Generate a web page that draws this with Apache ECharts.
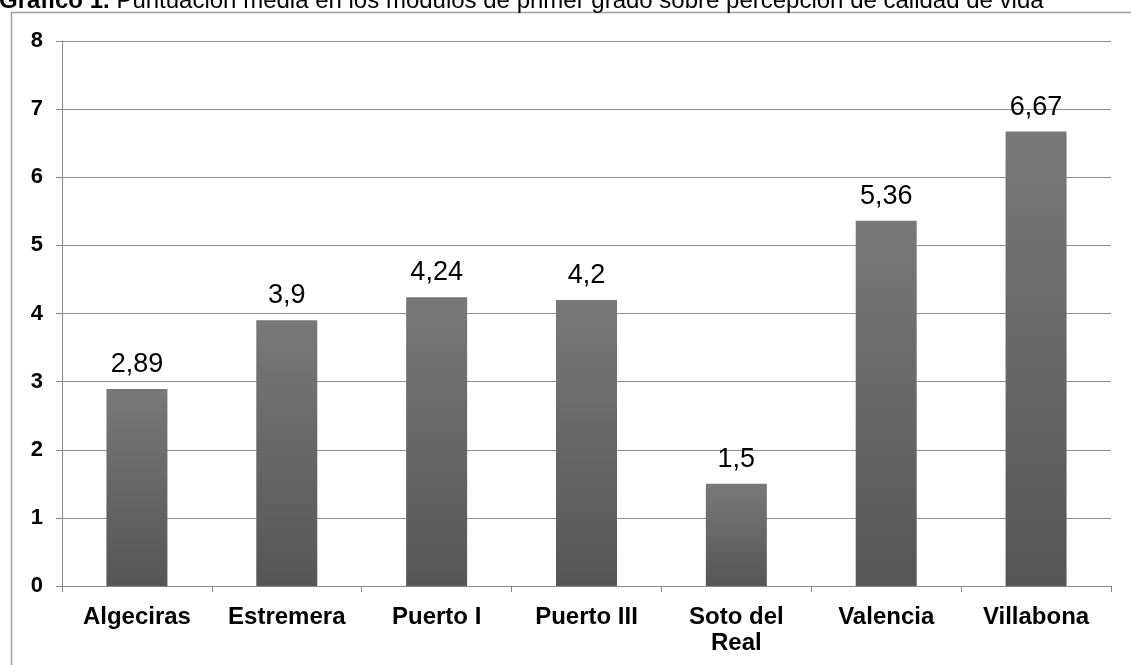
<!DOCTYPE html>
<html>
<head>
<meta charset="utf-8">
<script src="https://cdn.jsdelivr.net/npm/echarts@6/dist/echarts.min.js"></script>
<style>
html,body{margin:0;padding:0;background:#fff;}
#chart{width:1131px;height:665px;}
</style>
</head>
<body>
<div id="chart"></div>
<script>
// Centros penitenciarios y puntuación media
const categories = ['Algeciras', 'Estremera', 'Puerto I', 'Puerto III', 'Soto del\nReal', 'Valencia', 'Villabona'];
const values = [2.89, 3.9, 4.24, 4.2, 1.5, 5.36, 6.67];
const yTicks = [0, 1, 2, 3, 4, 5, 6, 7, 8];

const chart = echarts.init(document.getElementById('chart'));
const font = '"Liberation Sans", Arial, sans-serif';

chart.setOption({
  animation: false,
  textStyle: { fontFamily: font },
  graphic: [
    {
      type: 'rect',
      shape: { x: 11.5, y: 12.5, width: 1200, height: 700 },
      style: { fill: 'none', stroke: '#a0a0a0', lineWidth: 1.5 },
      z: 0
    },
    {
      type: 'text',
      left: -1,
      top: -11,
      style: {
        text: '{b|Gráfico 1.} Puntuación media en los módulos de primer grado sobre percepción de calidad de vida',
        fontSize: 24,
        fontFamily: font,
        fill: '#000',
        rich: { b: { fontWeight: 'bold', fontSize: 24, fontFamily: font, fill: '#000' } }
      }
    }
  ],
  grid: { left: 62, right: 20, top: 41, bottom: 79 },
  xAxis: {
    type: 'category',
    data: categories,
    axisLine: { lineStyle: { color: '#888', width: 1 } },
    axisTick: { show: true, length: 6, lineStyle: { color: '#888' } },
    axisLabel: {
      color: '#000', fontWeight: 'bold', fontSize: 24, margin: 18,
      lineHeight: 26, fontFamily: font, interval: 0
    }
  },
  yAxis: {
    type: 'value',
    min: 0, max: 8, interval: 1,
    axisLine: { show: true, lineStyle: { color: '#888', width: 1 } },
    axisTick: { show: true, length: 6, lineStyle: { color: '#888' } },
    axisLabel: {
      color: '#000', fontWeight: 'bold', fontSize: 22, margin: 19, fontFamily: font,
      formatter: v => yTicks.includes(v) ? String(v) : ''
    },
    splitLine: { lineStyle: { color: '#8c8c8c', width: 1 } }
  },
  series: [{
    type: 'bar',
    data: values,
    barWidth: 61,
    itemStyle: {
      color: new echarts.graphic.LinearGradient(0, 0, 0, 1, [
        { offset: 0, color: '#787878' },
        { offset: 1, color: '#565656' }
      ])
    },
    label: {
      show: true, position: 'top', distance: 11,
      color: '#000', fontSize: 27, fontFamily: font,
      formatter: p => String(p.value).replace('.', ',')
    }
  }]
});
</script>
</body>
</html>
